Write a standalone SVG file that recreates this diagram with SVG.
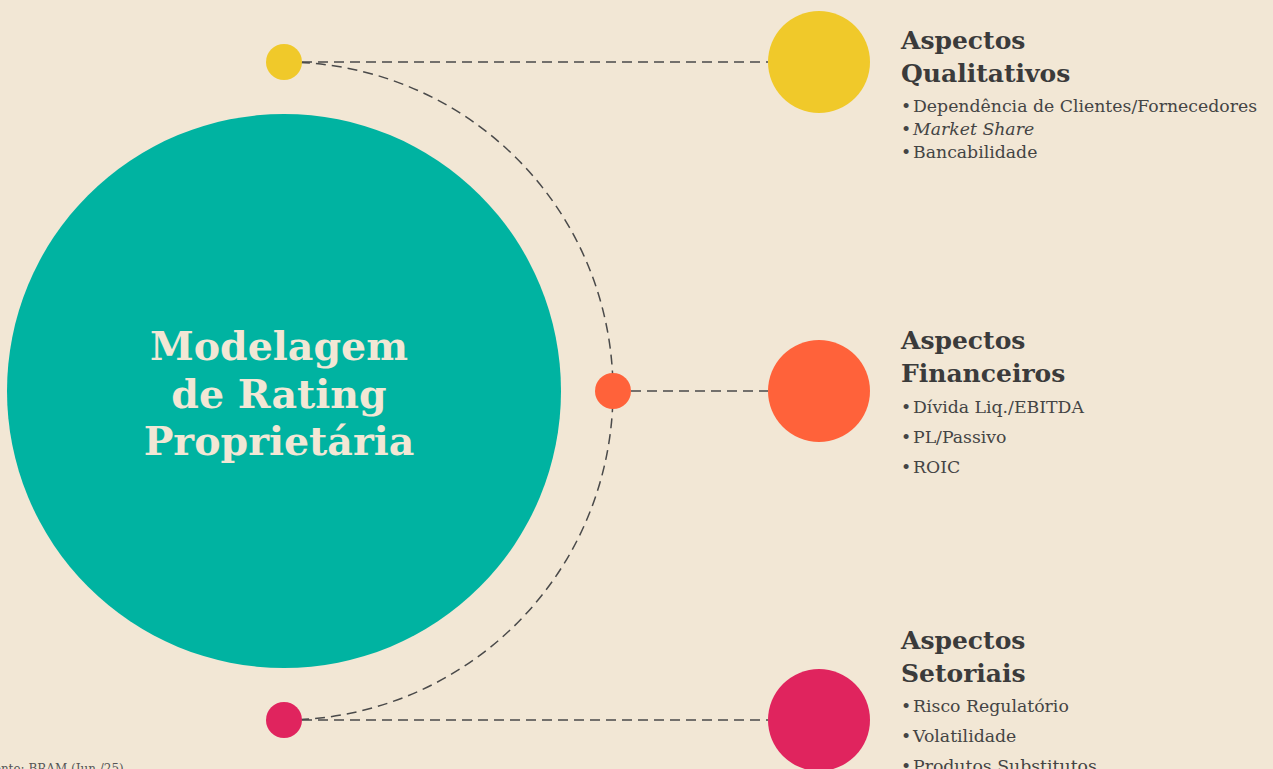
<svg xmlns="http://www.w3.org/2000/svg" width="1273" height="769" viewBox="0 0 1273 769">
<style>
.bg{fill:#F2E7D5}
.conn{fill:none;stroke:#4a4a4a;stroke-width:1.5;stroke-dasharray:10 6}
.title{font-family:"DejaVu Serif","Liberation Serif",serif;font-weight:bold;font-size:25px;fill:#3B3B3B}
.item{font-family:"DejaVu Serif","Liberation Serif",serif;font-size:17.3px;fill:#444}
.center{font-family:"DejaVu Serif","Liberation Serif",serif;font-weight:bold;font-size:39.5px;fill:#F2E7D5}
.foot{font-family:"DejaVu Serif","Liberation Serif",serif;font-size:12px;fill:#555}
</style>
<rect class="bg" x="0" y="0" width="1273" height="769"/>
<g id="connectors">
<path class="conn" d="M302 62 H768"/>
<path class="conn" d="M631 391 H768"/>
<path class="conn" d="M302 720 H768"/>
<path class="conn" d="M284 62 A329 329 0 0 1 284 720"/>
</g>
<g id="center-node">
<circle cx="284" cy="391" r="277" fill="#00B3A1"/>
<text class="center" text-anchor="middle"><tspan x="279" y="360">Modelagem</tspan><tspan x="279" y="408">de Rating</tspan><tspan x="279" y="455">Proprietária</tspan></text>
</g>
<g id="dot-qualitativos"><circle cx="284" cy="62" r="18" fill="#F0C92A"/></g>
<g id="dot-financeiros"><circle cx="613" cy="391" r="18" fill="#FF623A"/></g>
<g id="dot-setoriais"><circle cx="284" cy="720" r="18" fill="#E0245E"/></g>
<g id="node-qualitativos">
<circle cx="819" cy="62" r="51" fill="#F0C92A"/>
<text class="title"><tspan x="901" y="49">Aspectos</tspan><tspan x="901" y="82">Qualitativos</tspan></text>
<text class="item"><tspan x="901" y="112">•<tspan x="913">Dependência de Clientes/Fornecedores</tspan></tspan><tspan x="901" y="135">•<tspan x="913" font-style="italic">Market Share</tspan></tspan><tspan x="901" y="158">•<tspan x="913">Bancabilidade</tspan></tspan></text>
</g>
<g id="node-financeiros">
<circle cx="819" cy="391" r="51" fill="#FF623A"/>
<text class="title"><tspan x="901" y="349">Aspectos</tspan><tspan x="901" y="382">Financeiros</tspan></text>
<text class="item"><tspan x="901" y="413">•<tspan x="913">Dívida Liq./EBITDA</tspan></tspan><tspan x="901" y="443">•<tspan x="913">PL/Passivo</tspan></tspan><tspan x="901" y="473">•<tspan x="913">ROIC</tspan></tspan></text>
</g>
<g id="node-setoriais">
<circle cx="819" cy="720" r="51" fill="#E0245E"/>
<text class="title"><tspan x="901" y="649">Aspectos</tspan><tspan x="901" y="682">Setoriais</tspan></text>
<text class="item"><tspan x="901" y="712">•<tspan x="913">Risco Regulatório</tspan></tspan><tspan x="901" y="742">•<tspan x="913">Volatilidade</tspan></tspan><tspan x="901" y="772">•<tspan x="913">Produtos Substitutos</tspan></tspan></text>
</g>
<text class="foot" x="-14" y="773">Fonte: BRAM (Jun./25)</text>
</svg>
